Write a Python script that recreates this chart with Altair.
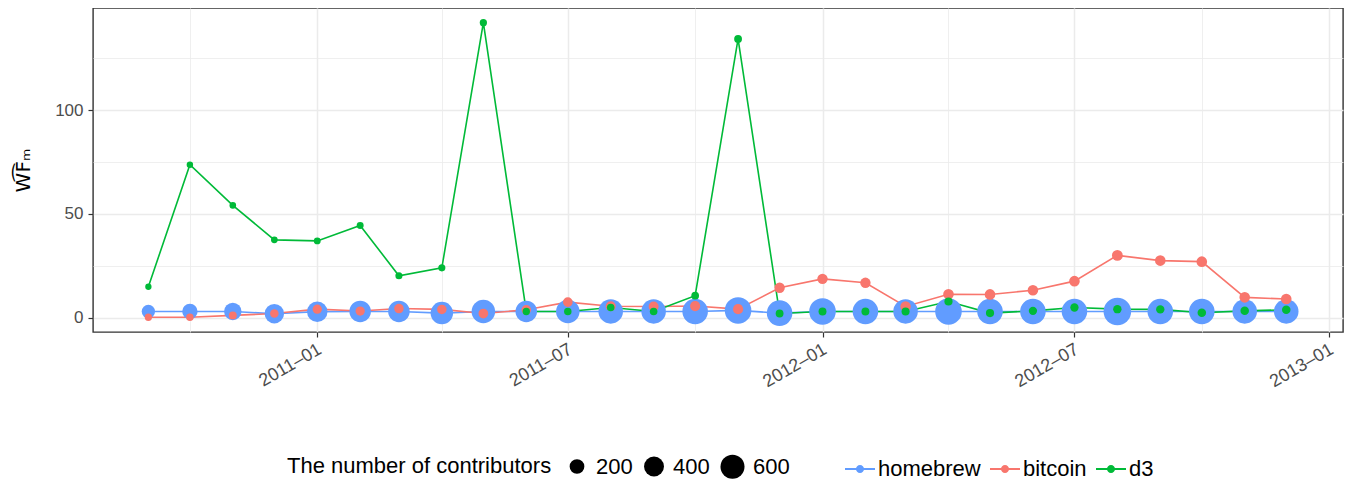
import altair as alt
import pandas as pd

months = [
    "2010-09-01T00:00:00", "2010-10-01T00:00:00", "2010-11-01T00:00:00", "2010-12-01T00:00:00",
    "2011-01-01T00:00:00", "2011-02-01T00:00:00", "2011-03-01T00:00:00", "2011-04-01T00:00:00",
    "2011-05-01T00:00:00", "2011-06-01T00:00:00", "2011-07-01T00:00:00", "2011-08-01T00:00:00",
    "2011-09-01T00:00:00", "2011-10-01T00:00:00", "2011-11-01T00:00:00", "2011-12-01T00:00:00",
    "2012-01-01T00:00:00", "2012-02-01T00:00:00", "2012-03-01T00:00:00", "2012-04-01T00:00:00",
    "2012-05-01T00:00:00", "2012-06-01T00:00:00", "2012-07-01T00:00:00", "2012-08-01T00:00:00",
    "2012-09-01T00:00:00", "2012-10-01T00:00:00", "2012-11-01T00:00:00", "2012-12-01T00:00:00",
]
projects = ["homebrew", "bitcoin", "d3"]
colors = ["#619CFF", "#F8766D", "#00BA38"]

homebrew_wf = [3.0, 3.0, 3.0, 1.9, 2.9, 3.0, 3.0, 2.2, 3.0, 3.0, 3.0, 3.0, 3.0, 3.0,
               3.5, 2.2, 3.0, 3.0, 3.0, 3.0, 3.0, 3.0, 3.0, 3.0, 3.0, 3.0, 3.0, 3.0]
bitcoin_wf = [0.2, 0.2, 1.1, 2.0, 4.1, 3.2, 4.4, 4.0, 2.0, 3.8, 7.5, 5.5, 5.4, 5.6,
              4.1, 14.4, 18.7, 16.8, 5.4, 11.3, 11.2, 13.2, 17.6, 30.0, 27.5, 27.0, 9.8, 9.0]
d3_wf = [14.9, 73.7, 54.1, 37.5, 37.0, 44.4, 20.2, 24.0, 142.1, 3.0, 3.0, 4.9, 3.0, 10.6,
         134.3, 2.0, 3.0, 3.0, 3.0, 7.8, 2.2, 3.3, 4.9, 4.1, 4.0, 2.4, 3.3, 3.8]

homebrew_n = [157, 222, 295, 378, 423, 470, 470, 520, 571, 470, 571, 625, 625, 681,
              740, 681, 740, 681, 625, 740, 681, 681, 681, 801, 681, 681, 625, 625]
bitcoin_n = [20, 22, 30, 40, 55, 55, 60, 60, 65, 60, 65, 70, 70, 75,
             75, 80, 80, 80, 80, 85, 85, 85, 85, 90, 85, 85, 85, 85]
d3_n = [4, 6, 8, 10, 12, 14, 16, 16, 18, 20, 22, 24, 24, 26,
        28, 28, 30, 30, 32, 34, 34, 36, 36, 38, 38, 40, 40, 40]

rows = []
for sid, (p, wf, n) in enumerate(zip(projects, [homebrew_wf, bitcoin_wf, d3_wf],
                                     [homebrew_n, bitcoin_n, d3_n])):
    for m, w, c in zip(months, wf, n):
        rows.append({"date": m, "project": p, "wf": w, "n": c, "sid": sid})
df = pd.DataFrame(rows)

major_x = [alt.DateTime(year=y, month=mo, date=1) for y, mo in
           [(2011, 1), (2011, 7), (2012, 1), (2012, 7), (2013, 1)]]
minor_x = [alt.DateTime(year=y, month=mo, date=1) for y, mo in
           [(2010, 10), (2011, 4), (2011, 10), (2012, 4), (2012, 10)]]
major_y = [0, 50, 100]
minor_y = [25, 75, 125]

xscale = alt.Scale(domain=[alt.DateTime(year=2010, month=7, date=23),
                           alt.DateTime(year=2013, month=1, date=11)])
yscale = alt.Scale(domain=[-6.9, 149.2], nice=False, zero=False)
cscale = alt.Scale(domain=projects, range=colors)

FONT = "Liberation Sans"
line_sym = ("M-1,-0.06L1,-0.06L1,0.06L-1,0.06Z "
            "M0.27,0A0.27,0.27 0 1,1 -0.27,0A0.27,0.27 0 1,1 0.27,0Z")

base = alt.Chart(df)

lines = base.mark_line(strokeWidth=1.6).encode(
    x=alt.X("date:T", scale=xscale, axis=alt.Axis(
        values=major_x, format="%Y–%m", formatType="time", title=None, orient="bottom",
        labelAngle=-30, labelAlign="right", labelBaseline="top", labelFontSize=18,
        labelColor="#4D4D4D", labelFont=FONT, tickColor="#333333", tickSize=5, tickWidth=1.2,
        labelPadding=3, labelOffset=-2, grid=True, gridColor="#EBEBEB", gridWidth=1.5,
        domain=False)),
    y=alt.Y("wf:Q", scale=yscale, axis=alt.Axis(
        values=major_y, title="W͡Fₘ", orient="left", labelFontSize=17, labelColor="#4D4D4D",
        labelFont=FONT, tickColor="#333333", tickSize=5, tickWidth=1.2, labelPadding=5,
        grid=True, gridColor="#EBEBEB", gridWidth=1.5, domain=False,
        titleFontSize=20, titleFontWeight="normal", titleColor="black",
        titleFont="DejaVu Sans", titlePadding=21)),
    color=alt.Color("project:N", scale=cscale, legend=alt.Legend(
        title=None, orient="none", direction="horizontal", legendX=752, legendY=446,
        symbolType=line_sym, symbolSize=900, symbolStrokeWidth=0, labelFontSize=22,
        labelFont=FONT, labelColor="black", columnPadding=9, labelOffset=3,
        labelLimit=0)),
    detail="project:N",
)

points = base.mark_circle(opacity=1).encode(
    x=alt.X("date:T", scale=xscale, axis=alt.Axis(
        values=minor_x, orient="bottom", labels=False, ticks=False, domain=False,
        title=None, grid=True, gridColor="#EBEBEB", gridWidth=0.8)),
    y=alt.Y("wf:Q", scale=yscale, axis=alt.Axis(
        values=minor_y, orient="left", labels=False, ticks=False, domain=False,
        title=None, grid=True, gridColor="#EBEBEB", gridWidth=0.8)),
    color=alt.Color("project:N", scale=cscale),
    size=alt.Size("n:Q", scale=alt.Scale(domain=[0, 800], range=[36, 760], zero=False),
                  legend=alt.Legend(
                      title="The number of contributors", values=[200, 400, 600],
                      orient="none", direction="horizontal", legendX=194, legendY=446,
                      titleOrient="left", titleFontSize=22, titleFontWeight="normal",
                      titleFont=FONT, titleColor="black", titleBaseline="middle",
                      titleLimit=0, labelLimit=0,
                      labelFontSize=22, labelFont=FONT, labelColor="black",
                      symbolFillColor="black", symbolStrokeWidth=0, symbolOpacity=1,
                      columnPadding=10, labelOffset=8, titlePadding=14)),
    order=alt.Order("sid:Q"),
)

chart = alt.layer(lines, points).resolve_axis(
    x="independent", y="independent"
).properties(
    width=1250, height=324,
    autosize=alt.AutoSizeParams(type="none"),
    padding={"left": 85, "top": 0, "right": 4, "bottom": 152},
).configure_view(stroke="#333333", strokeWidth=1.4)

chart.save("out.html", embed_options={"renderer": "svg", "actions": False})
